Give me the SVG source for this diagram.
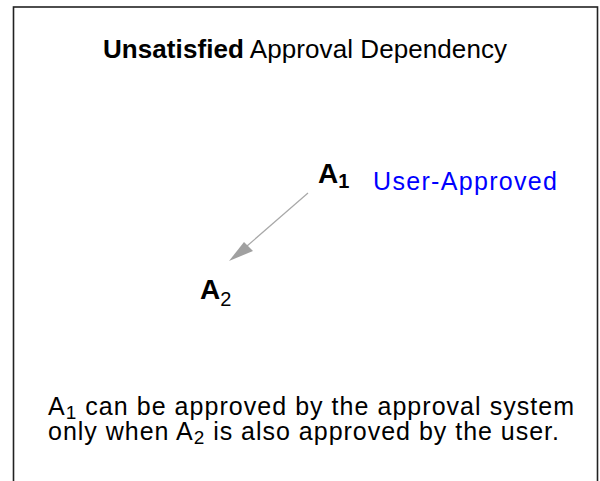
<svg xmlns="http://www.w3.org/2000/svg" width="600" height="481" viewBox="0 0 600 481">
<style>
  text { font-family: "Liberation Sans", Arial, sans-serif; fill: #000; }
  .title { font-size: 26px; }
  .node { font-size: 28px; font-weight: bold; }
  .sub { font-size: 20px; }
  .lab { font-size: 25px; fill: #0000ff; }
  .note { font-size: 25px; }
  .nsub { font-size: 19px; }
  .conn { stroke: #a8a8a8; stroke-width: 1.2; fill: none; }
  .head { fill: #a0a0a0; }
</style>
<rect x="13.5" y="7" width="584" height="490" fill="#fff" stroke="#222" stroke-width="1.6"/>
<text class="title" x="305" y="58" text-anchor="middle" textLength="404" lengthAdjust="spacing"><tspan font-weight="bold">Unsatisfied</tspan> Approval Dependency</text>
<g id="connectors">
  <line class="conn" x1="308" y1="193" x2="247" y2="246"/>
  <polygon class="head" points="229,261 244,242 253,251"/>
</g>
<g id="A1">
  <text class="node" x="318" y="183">A<tspan class="sub" dy="5">1</tspan></text>
  <text class="lab" x="373" y="190" textLength="184" lengthAdjust="spacing">User-Approved</text>
</g>
<g id="A2">
  <text class="node" x="200" y="299">A<tspan class="sub" font-weight="normal" dy="7">2</tspan></text>
</g>
<g id="note">
  <text class="note" x="48" y="415" textLength="526" lengthAdjust="spacing">A<tspan class="nsub" dy="4">1</tspan><tspan dy="-4"> can be approved by the approval system</tspan></text>
  <text class="note" x="48" y="440" textLength="511" lengthAdjust="spacing">only when A<tspan class="nsub" dy="4">2</tspan><tspan dy="-4"> is also approved by the user.</tspan></text>
</g>
</svg>
